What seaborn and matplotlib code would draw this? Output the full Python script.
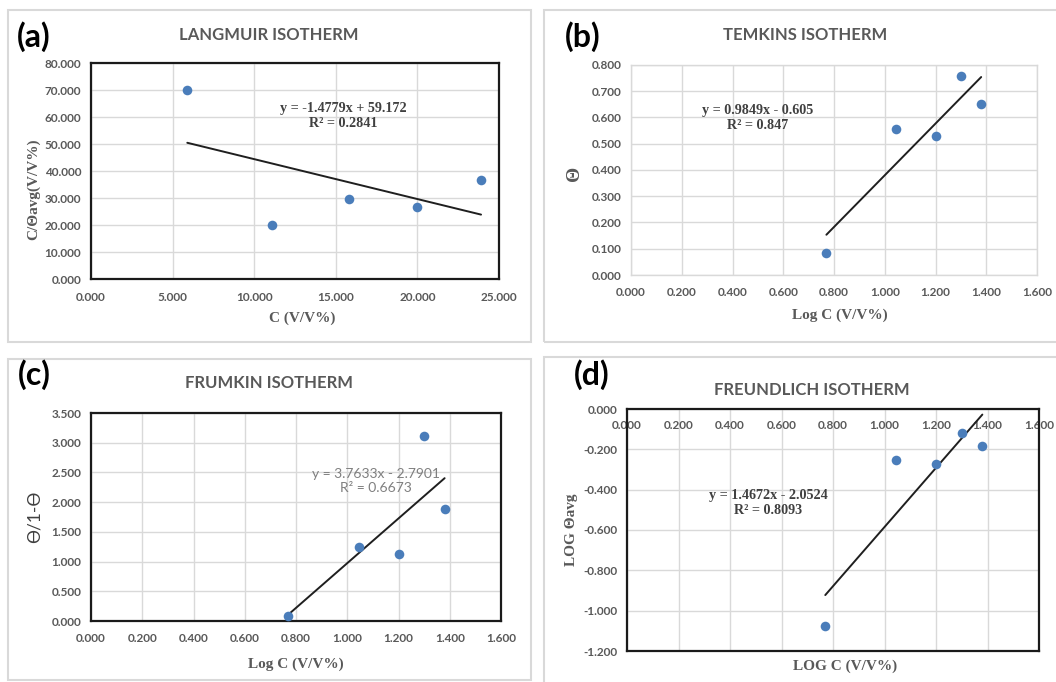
import numpy as np
import pandas as pd
import matplotlib
matplotlib.use("Agg")
import matplotlib.pyplot as plt
import seaborn as sns
from matplotlib.patches import Rectangle
from matplotlib.ticker import MultipleLocator, FormatStrFormatter

# ---------------- data ----------------
conc = [5.9, 11.1, 15.8, 20.0, 23.9]                 # C (V/V%)
langmuir_y = [70.0, 20.0, 29.8, 26.5, 36.6]          # C/Θavg
log_c = [0.770, 1.045, 1.200, 1.300, 1.380]          # Log C
temkin_y = [0.085, 0.557, 0.530, 0.757, 0.652]       # Θ
frumkin_y = [0.09, 1.25, 1.13, 3.11, 1.88]           # Θ/1-Θ
freundlich_y = [-1.075, -0.255, -0.275, -0.120, -0.185]  # LOG Θavg

slopes = [-1.4779, 0.9849, 3.7633, 1.4672]
intercepts = [59.172, -0.605, -2.7901, -2.0524]
equations = ["y = -1.4779x + 59.172\nR² = 0.2841",
             "y = 0.9849x - 0.605\nR² = 0.847",
             "y = 3.7633x - 2.7901\nR² = 0.6673",
             "y = 1.4672x - 2.0524\nR² = 0.8093"]
titles = ["LANGMUIR ISOTHERM", "TEMKINS ISOTHERM", "FRUMKIN ISOTHERM", "FREUNDLICH ISOTHERM"]
letters = ["(a)", "(b)", "(c)", "(d)"]
xlabels = ["C (V/V%)", "Log C (V/V%)", "Log C (V/V%)", "LOG C (V/V%)"]
ylabels = ["C/Θavg(V/V%)", "Θ", "Ө/1-Ө", "LOG Θavg"]

# ---------------- style ----------------
sns.set_style("white")
plt.rcParams["font.family"] = ["Lato", "DejaVu Sans"]

W, H = 1056, 682
fig = plt.figure(figsize=(W / 100, H / 100), dpi=100)
fig.patch.set_facecolor("white")

def fx(x):
    return x / W

def fy(y):
    return 1 - y / H

# panel frames (pixels: x0, y0, x1, y1)
frames = [(7.5, 10, 531, 342), (544, 10, 1060, 342), (7.5, 359, 531, 680), (544, 357, 1060, 690)]
for (x0, y0, x1, y1) in frames:
    fig.patches.append(Rectangle((fx(x0), fy(y1)), fx(x1 - x0), (y1 - y0) / H,
                                 transform=fig.transFigure, fill=False,
                                 edgecolor="#d9d9d9", linewidth=1.5, zorder=0))

# axes boxes in pixels (left, top, right, bottom)
boxes = [(91, 63, 499, 279), (631, 65, 1037, 275), (91, 413, 501, 621), (627, 409, 1039, 651)]
xlims = [(0, 25), (0, 1.6), (0, 1.6), (0, 1.6)]
xsteps = [5, 0.2, 0.2, 0.2]
ylims = [(0, 80), (0, 0.8), (0, 3.5), (-1.2, 0)]
ysteps = [10, 0.1, 0.5, 0.2]
xs = [conc, log_c, log_c, log_c]
ys = [langmuir_y, temkin_y, frumkin_y, freundlich_y]

title_pos = [(269, 35), (805, 35), (269, 383), (812, 390)]
letter_pos = [(34, 37), (583, 37), (34, 375), (592, 375)]
xlabel_pos = [(302, 318), (840, 315), (296, 664), (845, 666)]
ylabel_pos = [(34, 189), (574, 173), (35, 517), (572, 530)]
eq_pos = [(343, 116), (758, 118), (376, 481), (768, 503)]

grey_txt = "#595959"
frame_colors = ["#1a1a1a", "#d9d9d9", "#1a1a1a", "#1a1a1a"]
point_color = "#4a7dba"

for i in range(4):
    l, t, r, b = boxes[i]
    ax = fig.add_axes([fx(l), fy(b), fx(r - l), (b - t) / H])
    ax.set_facecolor("white")

    df = pd.DataFrame({"x": xs[i], "y": ys[i]})
    sns.scatterplot(data=df, x="x", y="y", ax=ax, color=point_color, s=48,
                    edgecolor=point_color, linewidth=0, zorder=4, clip_on=False)
    xmin, xmax = min(xs[i]), max(xs[i])
    line_df = pd.DataFrame({"x": [xmin, xmax],
                            "y": [slopes[i] * xmin + intercepts[i], slopes[i] * xmax + intercepts[i]]})
    sns.lineplot(data=line_df, x="x", y="y", ax=ax, color="#1f1f1f", linewidth=1.4, zorder=3)

    ax.set_xlim(*xlims[i])
    ax.set_ylim(*ylims[i])
    ax.xaxis.set_major_locator(MultipleLocator(xsteps[i]))
    ax.yaxis.set_major_locator(MultipleLocator(ysteps[i]))
    ax.xaxis.set_major_formatter(FormatStrFormatter("%.3f"))
    ax.yaxis.set_major_formatter(FormatStrFormatter("%.3f"))
    ax.grid(True, color="#d9d9d9", linewidth=1.0)
    ax.set_axisbelow(True)
    for sp in ax.spines.values():
        sp.set_visible(True)
        sp.set_color(frame_colors[i])
        sp.set_linewidth(1.6 if i != 1 else 1.0)
        sp.set_zorder(2.5)

    ax.tick_params(axis="both", length=0, labelsize=8.5, labelcolor=grey_txt)
    ax.tick_params(axis="y", pad=7)
    if i == 3:
        ax.tick_params(axis="x", labeltop=True, labelbottom=False, pad=-16)
    else:
        ax.tick_params(axis="x", pad=9)
    for lab in ax.get_xticklabels() + ax.get_yticklabels():
        lab.set_fontweight("bold")

    # axis labels
    ax.set_xlabel(xlabels[i], fontfamily=["Liberation Serif", "DejaVu Serif"],
                  fontweight="bold", fontsize=11, color=grey_txt)
    ax.xaxis.set_label_coords((xlabel_pos[i][0] - l) / (r - l), (b - xlabel_pos[i][1]) / (b - t))
    ax.xaxis.label.set_va("center")
    ax.xaxis.label.set_ha("center")
    if i == 2:
        ax.set_ylabel(ylabels[i], fontfamily=["Lato", "DejaVu Sans"], fontweight="normal",
                      fontsize=12.5, color="#404040")
    elif i == 1:
        ax.set_ylabel(ylabels[i], fontfamily=["Liberation Serif", "DejaVu Serif"],
                      fontweight="bold", fontsize=14, color=grey_txt)
    else:
        ax.set_ylabel(ylabels[i], fontfamily=["Liberation Serif", "DejaVu Serif"],
                      fontweight="bold", fontsize=11, color=grey_txt)
    ax.yaxis.set_label_coords((ylabel_pos[i][0] - l) / (r - l), (b - ylabel_pos[i][1]) / (b - t))
    ax.yaxis.label.set_va("center")
    ax.yaxis.label.set_ha("center")

    # trendline equation
    ex, ey = eq_pos[i]
    if i == 2:
        fig.text(fx(ex), fy(ey), equations[i], ha="center", va="center", fontsize=10,
                 color="#7f7f7f", family=["Lato", "DejaVu Sans"], linespacing=1.2)
    else:
        fig.text(fx(ex), fy(ey), equations[i], ha="center", va="center", fontsize=10.2,
                 color="#404040", fontweight="bold",
                 family=["Liberation Serif", "DejaVu Serif"], linespacing=1.2)

    # title and panel letter
    fig.text(fx(title_pos[i][0]), fy(title_pos[i][1]), titles[i], ha="center", va="center",
             fontsize=12, fontweight="bold", color=grey_txt, family=["Lato", "DejaVu Sans"])
    fig.text(fx(letter_pos[i][0]), fy(letter_pos[i][1]), letters[i], ha="center", va="center",
             fontsize=23, fontweight="bold", color="black", family=["Lato", "DejaVu Sans"])

fig.savefig("out.png", dpi=100, facecolor="white")
